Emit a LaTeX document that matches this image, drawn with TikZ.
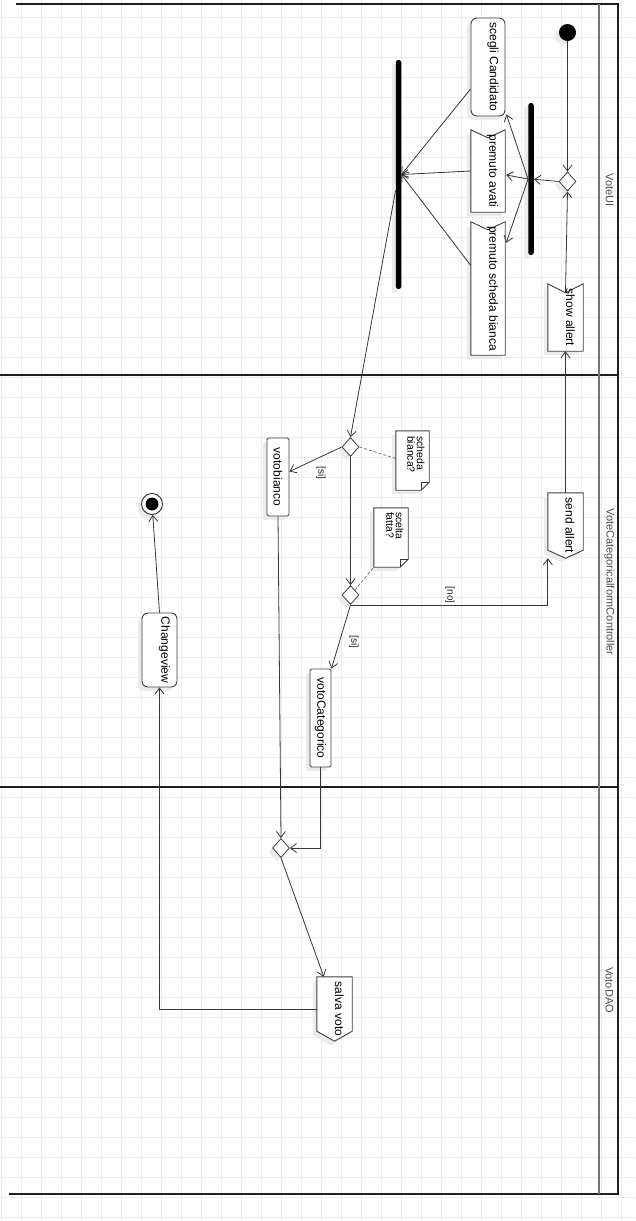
\documentclass[tikz,border=0pt]{standalone}
\usepackage{fontspec}
\setmainfont{Liberation Sans}
\usepackage{graphicx}
\usetikzlibrary{shapes.geometric,arrows.meta,shadows,calc}
\pgfdeclarelayer{gridlayer}
\pgfdeclarelayer{bglayer}
\pgfsetlayers{gridlayer,bglayer,main}
\newcommand{\rotlabel}[2][0pt]{\rotatebox{-90}{\raisebox{#1}[\height][\depth]{#2}}}
\tikzset{
  ln/.style={draw=black!78, line width=0.8pt},
  arr/.style={ln, -{Straight Barb[length=6pt,width=9pt]}},
  shd/.style={drop shadow={shadow xshift=-4pt,shadow yshift=-4pt,fill=black!8,opacity=1}},
  txt/.style={font=\fontsize{12}{14}\selectfont, inner sep=0pt, text=black},
  rbox/.style={txt, draw=black!75, line width=0.9pt, fill=white, rounded corners=6pt, shd},
  sbox/.style={txt, draw=black!75, line width=0.9pt, fill=white, rounded corners=1.5pt, shd},
  holder/.style={txt, draw=none},
  outline/.style={draw=black!75, line width=0.9pt, fill=white, shd},
  bar/.style={fill=black, draw=none, rounded corners=2.5pt, inner sep=0pt, minimum width=5.5pt, shd},
  dec/.style={diamond, draw=black!75, fill=white, line width=0.8pt, inner sep=0pt, minimum width=17pt, minimum height=19pt, shd},
  guard/.style={font=\fontsize{10}{12}\selectfont, text=black!85, inner sep=0pt},
  lane/.style={font=\fontsize{11}{13}\selectfont, text=black!70, inner sep=0pt},
  notetxt/.style={font=\fontsize{10.5}{11.5}\selectfont, inner sep=0pt},
  notelink/.style={draw=black!60, line width=0.7pt, dash pattern=on 3pt off 2pt},
  frame/.style={draw=black!88, line width=2pt},
}
\begin{document}
\begin{tikzpicture}[x=1pt,y=-1pt]
\useasboundingbox (0,0) rectangle (635,1221);
% grid
\begin{pgfonlayer}{gridlayer}
  \fill[white] (0,0) rectangle (635,1221);
  \foreach \gx in {1,21,...,621} \draw[black!7, line width=1pt] (\gx,0) -- (\gx,1221);
  \foreach \gy in {17,37,...,1217} \draw[black!7, line width=1pt] (0,\gy) -- (635,\gy);
\end{pgfonlayer}
% pool frame
\draw[frame] (16,4) -- (618,4) -- (618,1194) -- (9,1194);
\draw[frame] (0,375) -- (618,375);
\draw[frame] (0,787) -- (618,787);
\draw[draw=black!55, line width=1.5pt] (599,4) -- (599,1194);
\node[lane] (laneA) at (609.5,190) {\rotlabel{VoteUI}};
\node[lane] (laneB) at (609.5,582) {\rotlabel{VoteCategoricalformController}};
\node[lane] (laneC) at (609.5,990) {\rotlabel{VotoDAO}};

% nodes
\node[circle, fill=black, minimum size=17pt, inner sep=0pt, shd] (init) at (567.5,32.5) {};
\node[dec] (d0) at (567.5,181.5) {};
\node[rbox, minimum width=34pt, minimum height=98pt] (scegli) at (488,67) {\rotlabel[5pt]{scegli Candidato}};
\node[holder, minimum width=34pt, minimum height=82pt] (avati) at (488,171) {\rotlabel[4.5pt]{premuto avati}};
\node[holder, minimum width=34pt, minimum height=133pt] (scheda) at (488,288.5) {\rotlabel[4.5pt]{premuto scheda bianca}};
\node[holder, minimum width=35pt, minimum height=67pt] (show) at (565.5,317.5) {\rotlabel[5pt]{show allert}};
\node[bar, minimum height=152pt] (fork1) at (531,179) {};
\node[bar, minimum height=229pt] (join) at (398.5,174.5) {};
\node[dec] (d1) at (350.5,447) {};
\node[dec] (d2) at (350.5,595) {};
\node[holder, minimum width=33pt, minimum height=59pt] (n1) at (412.5,460.5) {};
\node[notetxt, anchor=north east] (n1t) at ($(n1.north east)+(-4,5)$) {\rotatebox{-90}{\begin{tabular}{@{}l@{}}scheda\\[-2pt]bianca?\end{tabular}}};
\node[holder, minimum width=34pt, minimum height=59pt] (n2) at (391,537.5) {};
\node[notetxt, anchor=north east] (n2t) at ($(n2.north east)+(-4,4)$) {\rotatebox{-90}{\begin{tabular}{@{}l@{}}scelta\\[-2pt]fatta?\end{tabular}}};
\node[sbox, minimum width=22pt, minimum height=78pt] (vb) at (278,477) {\rotlabel{votobianco}};
\node[holder, minimum width=35pt, minimum height=65pt] (send) at (565.5,525.5) {\rotlabel[4.5pt]{send allert}};
\node[sbox, minimum width=21pt, minimum height=98pt] (vc) at (320.5,718) {\rotlabel{votoCategorico}};
\node[dec] (d3) at (281,848) {};
\node[holder, minimum width=35pt, minimum height=64pt] (salva) at (334.5,1009) {\rotlabel[5pt]{salva voto}};
\node[rbox, minimum width=35pt, minimum height=74pt] (cv) at (159.5,650) {\rotlabel[5pt]{Changeview}};
\node[circle, draw=black!80, line width=0.9pt, fill=white, minimum size=21pt, inner sep=0pt, shd] (fin) at (152,504) {};
\fill[black] (fin.center) circle (6.5pt);

% outlines of signal shapes and notes
\begin{pgfonlayer}{bglayer}
  \path[outline] (avati.north west) -- ($(avati.north)+(0,8)$) -- (avati.north east) -- (avati.south east) -- (avati.south west) -- cycle;
  \path[outline] (scheda.north west) -- ($(scheda.north)+(0,8)$) -- (scheda.north east) -- (scheda.south east) -- (scheda.south west) -- cycle;
  \path[outline] (show.north west) -- ($(show.north)+(0,9)$) -- (show.north east) -- (show.south east) -- (show.south west) -- cycle;
  \path[outline] (send.north west) -- (send.north east) -- ($(send.south east)+(0,-8)$) -- (send.south) -- ($(send.south west)+(0,-8)$) -- cycle;
  \path[outline] (salva.north west) -- (salva.north east) -- ($(salva.south east)+(0,-10)$) -- (salva.south) -- ($(salva.south west)+(0,-10)$) -- cycle;
  \path[outline] (n1.north west) -- (n1.north east) -- ($(n1.south east)+(0,-8)$) -- ($(n1.south east)+(-8,0)$) -- (n1.south west) -- cycle;
  \draw[ln, line width=0.7pt] ($(n1.south east)+(0,-8)$) -- ($(n1.south east)+(-8,-8)$) -- ($(n1.south east)+(-8,0)$);
  \path[outline] (n2.north west) -- (n2.north east) -- ($(n2.south east)+(0,-8)$) -- ($(n2.south east)+(-8,0)$) -- (n2.south west) -- cycle;
  \draw[ln, line width=0.7pt] ($(n2.south east)+(0,-8)$) -- ($(n2.south east)+(-8,-8)$) -- ($(n2.south east)+(-8,0)$);
\end{pgfonlayer}

% connectors
\draw[arr] (init) -- (d0);
\draw[arr] ($(show.north)+(0,9)$) -- (d0.south);
\draw[arr] (d0.west) -- (fork1);
\draw[arr] (fork1.west) -- ($(scegli.south east)+(1,-2)$);
\draw[arr] (fork1.west) -- ($(avati.east)+(1,4)$);
\draw[arr] (fork1.west) -- ($(scheda.north east)+(1,21)$);
\draw[arr] ($(scegli.west)+(0,22)$) -- (join.east);
\draw[arr] (avati.west) -- (join.east);
\draw[arr] ($(scheda.west)+(0,-23)$) -- (join.east);
\draw[arr] (join) -- (d1.north);
\draw[arr] (d1.west) -- ($(vb.north east)+(0,34)$);
\node[guard] (g1) at (321,473) {\rotatebox{-90}{[si]}};
\draw[arr] (d1.south) -- (d2.north);
\draw[notelink] (d1.east) -- ($(n1.west)+(0,-2)$);
\draw[notelink] (d2.north east) -- (n2.south west);
\draw[arr] (d2.south) -| (send.south west);
\node[guard] (g2) at (450,595) {\rotatebox{-90}{[no]}};
\draw[arr] (d2.south) -- (vc.north east);
\node[guard] (g3) at (354,642) {\rotatebox{-90}{[si]}};
\draw[arr] (send.north) -- (show.south);
\draw[arr] (vb.south) -- (d3.north);
\draw[arr] (vc.south) |- (d3.east);
\draw[arr] (d3.south) -- ($(salva.north west)+(7,0)$);
\draw[arr] (salva.west) -| (cv.south);
\draw[arr] (cv.north) -- (fin);
\end{tikzpicture}
\end{document}
